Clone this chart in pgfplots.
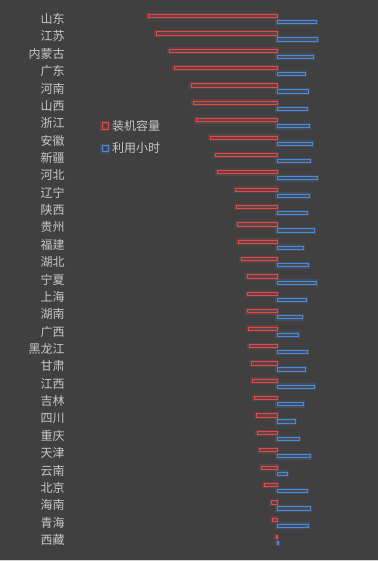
\documentclass[border=0pt]{standalone}
\usepackage{pgfplots}
\pgfplotsset{compat=1.18}
\usepackage{pgfplotstable}
\usepackage{fontspec}
\newfontfamily\cjk{Noto Sans CJK SC}
\definecolor{bg}{HTML}{404040}
\definecolor{labgray}{HTML}{C8C8C8}
\definecolor{redbar}{HTML}{E04A4A}
\definecolor{bluebar}{HTML}{4C8AD6}

\pgfplotstableread{
i cap hours
0 129 39.3
1 121 40.3
2 108 36.3
3 103 28.3
4 86 31.3
5 84 30.3
6 81 32.3
7 67 35.3
8 62 33.3
9 60 40.3
10 42 32.3
11 41 30.3
12 40 37.3
13 39 26.3
14 36 31.3
15 30 39.3
16 30 29.3
17 30 25.3
18 29 21.3
19 28 30.3
20 26 28.3
21 25 37.3
22 23 26.3
23 21 18.3
24 20 22.3
25 18 33.3
26 16 10.3
27 13 30.3
28 6 33.3
29 5 31.3
30 1 1.3
}\datatable

\begin{document}
\begin{tikzpicture}
\begin{axis}[
  at={(0pt,0pt)}, anchor=south west,
  scale only axis, width=378pt, height=561pt,
  xmin=-277, xmax=101,
  y dir=reverse,
  ymin=-1.0938, ymax=31.203,
  axis background/.style={fill=bg},
  axis line style={draw=none},
  tick style={draw=none},
  xtick=\empty,
  ytick={0,...,30},
  yticklabels={山东,江苏,内蒙古,广东,河南,山西,浙江,安徽,新疆,河北,辽宁,陕西,贵州,福建,湖北,宁夏,上海,湖南,广西,黑龙江,甘肃,江西,吉林,四川,重庆,天津,云南,北京,海南,青海,西藏},
  yticklabel style={font=\cjk\fontsize{12}{12}\selectfont, text=labgray, anchor=east, inner sep=0pt, xshift=69pt},
  xbar, bar width=3.2pt, bar shift=0pt,
  clip=false,
  legend style={at={(axis description cs:0.2646,0.7897)}, anchor=north west, draw=none, fill=none, text=labgray,
    font=\cjk\fontsize{12}{12}\selectfont, row sep=7pt, inner sep=0pt,
    nodes={inner xsep=2pt}},
  legend cell align=left,
]
\addplot[draw=redbar, line width=0.9pt, fill=none,
  preaction={draw=redbar, draw opacity=0.2, line width=3.5pt},
  legend image code/.code={\draw[redbar, line width=0.9pt] (0pt,-3.2pt) rectangle (6.4pt,3.2pt);}]
  table[x expr=-\thisrow{cap}, y expr=\thisrow{i}-0.173] {\datatable};
\addlegendentry{装机容量}
\addplot[draw=bluebar, line width=0.9pt, fill=none,
  preaction={draw=bluebar, draw opacity=0.2, line width=3.5pt},
  legend image code/.code={\draw[bluebar, line width=0.9pt] (0pt,-3.2pt) rectangle (6.4pt,3.2pt);}]
  table[x=hours, y expr=\thisrow{i}+0.173] {\datatable};
\addlegendentry{利用小时}
\end{axis}
\fill[labgray!80] (0pt,0pt) rectangle (378pt,1pt);
\pgfresetboundingbox
\path[use as bounding box] (0pt,0pt) rectangle (378pt,561pt);
\end{tikzpicture}
\end{document}
